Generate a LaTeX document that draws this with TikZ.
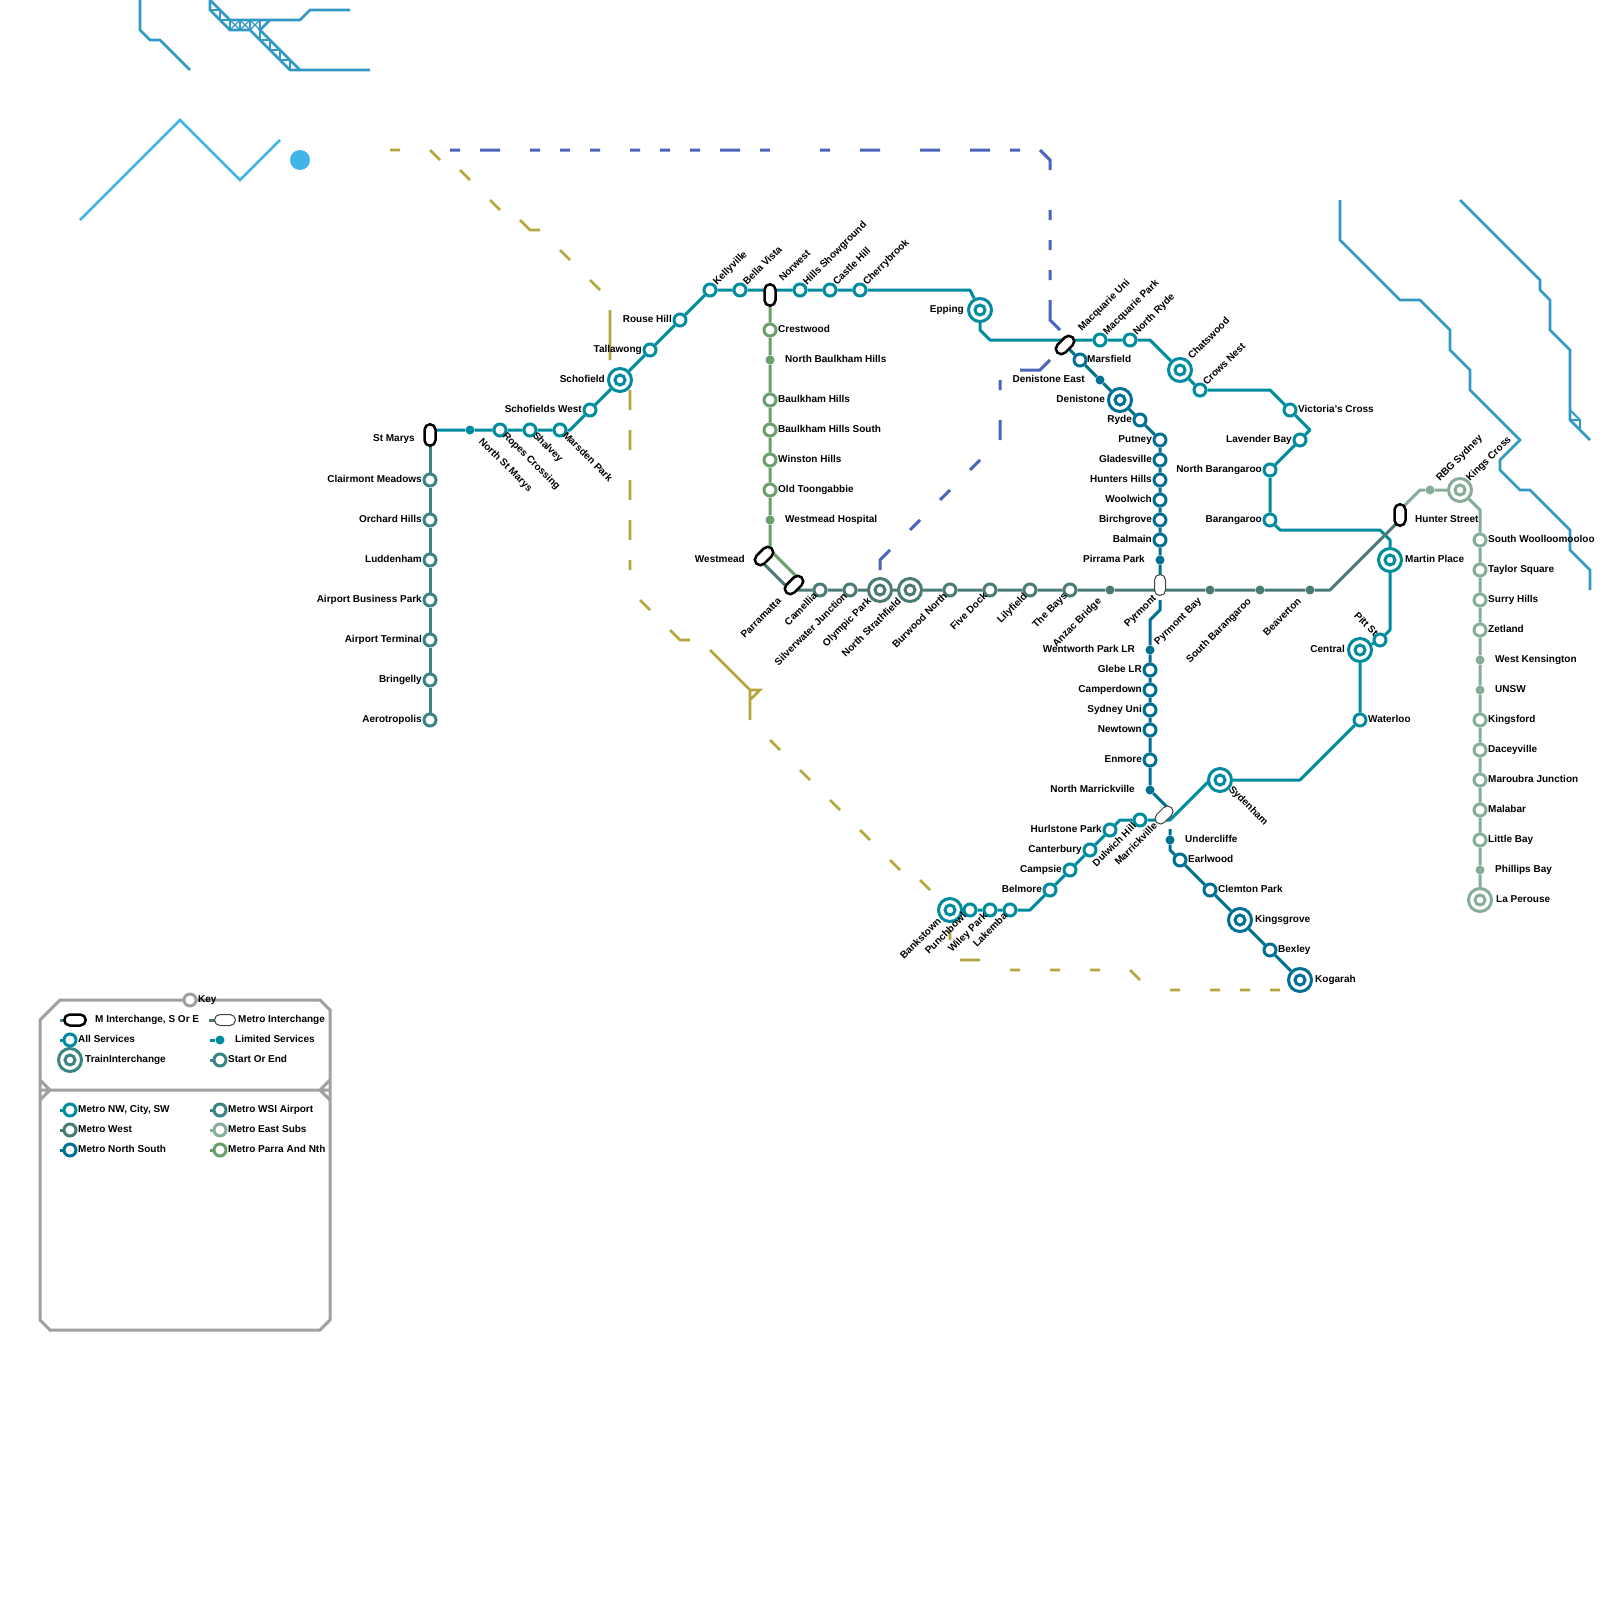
\documentclass[tikz,border=0pt]{standalone}
\usepackage{fontspec}
\setmainfont{Liberation Sans}
\usetikzlibrary{shapes.misc}
\definecolor{nw}{HTML}{008C9F}
\definecolor{west}{HTML}{4A7A75}
\definecolor{ns}{HTML}{006F94}
\definecolor{wsi}{HTML}{3A8488}
\definecolor{east}{HTML}{86AD9A}
\definecolor{parra}{HTML}{6A9E6B}
\definecolor{keygray}{HTML}{A0A0A0}
\definecolor{rail}{HTML}{3299C7}
\definecolor{skyb}{HTML}{3FB4E5}
\definecolor{olive}{HTML}{B5A73B}
\definecolor{purp}{HTML}{4A63BD}
\pgfdeclarelayer{lines}
\pgfsetlayers{lines,main}
\tikzset{
  ring/.style={circle,draw=#1,fill=white,line width=3pt,minimum size=12pt,inner sep=0pt},
  dotst/.style={circle,fill=#1,minimum size=9pt,inner sep=0pt},
  bigring/.style={circle,draw=#1,fill=white,line width=3pt,minimum size=23pt,inner sep=0pt},
  innerring/.style={circle,draw=#1,fill=white,line width=3pt,minimum size=10pt,inner sep=0pt},
  pillk/.style={rounded rectangle,draw=black,fill=white,line width=2.5pt,minimum width=21.5pt,minimum height=11pt,inner sep=0pt},
  pillw/.style={rounded rectangle,draw=black!75,fill=white,line width=1pt,minimum width=21pt,minimum height=11pt,inner sep=0pt},
  labl/.style={inner sep=0pt,text=black,font=\bfseries\fontsize{10}{12}\selectfont},
  metro/.style={draw=#1,line width=3pt,line join=round},
  railline/.style={draw=rail,line width=2.6pt,line join=miter},
  skyline/.style={draw=skyb,line width=2.6pt,line join=miter},
  olv/.style={draw=olive,line width=2.6pt,line join=miter},
  prp/.style={draw=purp,line width=3pt,line join=miter},
  keybox/.style={draw=keygray,line width=3pt,line join=miter}
}
\newcommand{\stR}[4]{\node[ring=#4] (#1) at (#2,#3) {};}
\newcommand{\stD}[4]{\node[dotst=#4] (#1) at (#2,#3) {};}
\newcommand{\stB}[4]{\node[bigring=#4] (#1) at (#2,#3) {};\node[innerring=#4] (#1i) at (#2,#3) {};}
\newcommand{\lbR}[4]{\node[labl,anchor=mid west] (l#1) at ([shift={(#2,#3)}]#1.center) {#4};}
\newcommand{\lbL}[4]{\node[labl,anchor=mid east] (l#1) at ([shift={(#2,#3)}]#1.center) {#4};}
\newcommand{\lbUR}[4]{\node[labl,anchor=mid west,rotate=45] (l#1) at ([shift={(#2,#3)}]#1.center) {#4};}
\newcommand{\lbUL}[4]{\node[labl,anchor=mid east,rotate=45] (l#1) at ([shift={(#2,#3)}]#1.center) {#4};}
\newcommand{\lbDR}[4]{\node[labl,anchor=mid west,rotate=-45] (l#1) at ([shift={(#2,#3)}]#1.center) {#4};}
\newcommand{\lbDL}[4]{\node[labl,anchor=mid east,rotate=-45] (l#1) at ([shift={(#2,#3)}]#1.center) {#4};}
\begin{document}
\begin{tikzpicture}[x=1pt,y=-1pt]
\useasboundingbox (0,0) rectangle (1600,1600);
\begin{pgfonlayer}{lines}
\fill[white] (0,0) rectangle (1600,1600);
\end{pgfonlayer}
% ---------- background rail lines
\draw[railline] (140,0)--(140,30)--(150,40)--(160,40)--(190,70);
\draw[railline] (210,0)--(230,20)--(300,20)--(310,10)--(350,10);
\draw[railline] (210,0)--(210,10)--(230,30)--(250,30)--(290,70)--(370,70);
\draw[railline] (270,20)--(260,30)--(300,70);
\draw[railline,line width=2pt] (210,10)--(220,10)--(220,20)--(230,20)--(230,30);
\draw[railline,line width=2pt] (240,20)--(240,30) (250,20)--(250,30) (260,20)--(260,30);
\draw[railline,line width=1.2pt] (230,20)--(240,30) (240,20)--(230,30) (240,20)--(250,30) (250,20)--(240,30) (250,20)--(260,30) (260,20)--(250,30);
\draw[railline,line width=2pt] (260,30)--(260,40)--(270,40)--(270,50)--(280,50)--(280,60)--(290,60)--(290,70);
\draw[skyline] (80,220)--(180,120)--(240,180)--(280,140);
\fill[skyb] (300,160) circle (10);
\draw[railline] (1340,200)--(1340,240)--(1400,300)--(1420,300)--(1450,330)--(1450,350)--(1470,370)--(1470,390)--(1520,440)--(1500,460)--(1500,470)--(1520,490)--(1530,490)--(1570,530)--(1570,550)--(1590,570)--(1590,590);
\draw[railline] (1460,200)--(1540,280)--(1540,290)--(1550,300)--(1550,330)--(1570,350)--(1570,420)--(1590,440);
\draw[railline,line width=2pt] (1570,410)--(1580,420)--(1580,430) (1570,420)--(1580,420);
% ---------- olive dashes
\draw[olv] (390,150)--(400,150) (430,150)--(440,160) (460,170)--(470,180) (490,200)--(500,210)
 (520,220)--(530,230)--(540,230) (560,250)--(570,260) (590,280)--(600,290) (610,310)--(610,360)
 (630,390)--(630,410) (630,430)--(630,450) (630,480)--(630,500) (630,520)--(630,540) (630,560)--(630,570)
 (640,600)--(650,610) (670,630)--(680,640)--(690,640) (710,650)--(750,690)--(750,720)
 (750,690)--(760,690)--(750,700)
 (770,740)--(780,750) (800,770)--(810,780) (830,800)--(840,810) (860,830)--(870,840) (890,860)--(900,870) (920,880)--(930,890)
 (950,930)--(950,940) (960,960)--(980,960) (1010,970)--(1020,970) (1050,970)--(1060,970) (1090,970)--(1100,970)
 (1130,970)--(1140,980) (1170,990)--(1180,990) (1210,990)--(1220,990) (1240,990)--(1250,990) (1270,990)--(1280,990);
% ---------- purple dashes
\draw[prp] (450,150)--(460,150) (480,150)--(500,150) (530,150)--(540,150) (560,150)--(570,150) (590,150)--(600,150)
 (630,150)--(640,150) (660,150)--(670,150) (690,150)--(700,150) (720,150)--(740,150) (760,150)--(770,150)
 (820,150)--(830,150) (860,150)--(880,150) (920,150)--(940,150) (970,150)--(990,150) (1010,150)--(1020,150)
 (1040,150)--(1050,160)--(1050,170) (1050,210)--(1050,220) (1050,240)--(1050,250) (1050,270)--(1050,280)
 (1050,300)--(1050,320)--(1060,330) (1050,360)--(1040,370)--(1020,370)
 (1000,380)--(1000,390) (1000,420)--(1000,440) (980,460)--(970,470) (950,490)--(940,500)
 (920,520)--(910,530) (890,550)--(880,560)--(880,570);
% ---------- key box
\draw[keybox] (60,1000)--(320,1000)--(330,1010)--(330,1320)--(320,1330)--(50,1330)--(40,1320)--(40,1020)--cycle;
\draw[keybox] (40,1080)--(50,1090)--(40,1100) (330,1080)--(320,1090)--(330,1100) (40,1090)--(330,1090);
% ---------- interchanges
\node[pillk,rotate=90] (stmarys) at (430,435) {};
\node[pillk,rotate=90] (norwest) at (770,295) {};
\node[pillk,rotate=45] (westmead) at (764,556) {};
\node[pillk,rotate=45] (parramatta) at (794,585) {};
\node[pillk,rotate=45] (macuni) at (1065,345) {};
\node[pillk,rotate=90] (hunter) at (1400,515) {};
\node[pillw,rotate=90] (pyrmont) at (1160,585) {};
\node[pillw,rotate=45] (marrick) at (1164,815) {};
% ---------- WSI
\stR{clairmont}{430}{480}{wsi}\stR{orchard}{430}{520}{wsi}\stR{luddenham}{430}{560}{wsi}\stR{abp}{430}{600}{wsi}
\stR{airport}{430}{640}{wsi}\stR{bringelly}{430}{680}{wsi}\stR{aerotropolis}{430}{720}{wsi}
% ---------- NW, City, SW
\stD{nstmarys}{470}{430}{nw}\stR{ropes}{500}{430}{nw}\stR{shalvey}{530}{430}{nw}\stR{marsden}{560}{430}{nw}
\stR{schwest}{590}{410}{nw}\stB{schofield}{620}{380}{nw}\stR{tallawong}{650}{350}{nw}\stR{rouse}{680}{320}{nw}
\stR{kellyville}{710}{290}{nw}\stR{bella}{740}{290}{nw}\stR{hills}{800}{290}{nw}\stR{castle}{830}{290}{nw}\stR{cherry}{860}{290}{nw}
\stB{epping}{980}{310}{nw}\stR{macpark}{1100}{340}{nw}\stR{nryde}{1130}{340}{nw}\stB{chatswood}{1180}{370}{nw}\stR{crows}{1200}{390}{nw}
\stR{victoria}{1290}{410}{nw}\stR{lavender}{1300}{440}{nw}\stR{nbarangaroo}{1270}{470}{nw}\stR{barangaroo}{1270}{520}{nw}
\stB{martin}{1390}{560}{nw}\stR{pitt}{1380}{640}{nw}\stB{central}{1360}{650}{nw}\stR{waterloo}{1360}{720}{nw}\stB{sydenham}{1220}{780}{nw}
\stR{dulwich}{1140}{820}{nw}\stR{hurlstone}{1110}{830}{nw}\stR{canterbury}{1090}{850}{nw}\stR{campsie}{1070}{870}{nw}\stR{belmore}{1050}{890}{nw}
\stR{lakemba}{1010}{910}{nw}\stR{wiley}{990}{910}{nw}\stR{punchbowl}{970}{910}{nw}\stB{bankstown}{950}{910}{nw}
% ---------- Parra and North
\stR{crestwood}{770}{330}{parra}\stD{nbaulk}{770}{360}{parra}\stR{baulk}{770}{400}{parra}\stR{baulks}{770}{430}{parra}
\stR{winston}{770}{460}{parra}\stR{toongabbie}{770}{490}{parra}\stD{hospital}{770}{520}{parra}
% ---------- West
\stR{camellia}{820}{590}{west}\stR{silver}{850}{590}{west}\stB{olympic}{880}{590}{west}\stB{nstrath}{910}{590}{west}
\stR{burwood}{950}{590}{west}\stR{fivedock}{990}{590}{west}\stR{lilyfield}{1030}{590}{west}\stR{bays}{1070}{590}{west}
\stD{anzac}{1110}{590}{west}\stD{pbay}{1210}{590}{west}\stD{sbarangaroo}{1260}{590}{west}\stD{beaverton}{1310}{590}{west}
% ---------- North South
\stR{marsfield}{1080}{360}{ns}\stD{denie}{1100}{380}{ns}\stB{denistone}{1120}{400}{ns}\stR{ryde}{1140}{420}{ns}
\stR{putney}{1160}{440}{ns}\stR{gladesville}{1160}{460}{ns}\stR{hunters}{1160}{480}{ns}\stR{woolwich}{1160}{500}{ns}
\stR{birchgrove}{1160}{520}{ns}\stR{balmain}{1160}{540}{ns}\stD{pirrama}{1160}{560}{ns}
\stD{wentworth}{1150}{650}{ns}\stR{glebe}{1150}{670}{ns}\stR{camperdown}{1150}{690}{ns}\stR{sydneyuni}{1150}{710}{ns}
\stR{newtown}{1150}{730}{ns}\stR{enmore}{1150}{760}{ns}\stD{nmarrick}{1150}{790}{ns}
\stD{undercliffe}{1170}{840}{ns}\stR{earlwood}{1180}{860}{ns}\stR{clemton}{1210}{890}{ns}\stB{kingsgrove}{1240}{920}{ns}\stR{bexley}{1270}{950}{ns}\stB{kogarah}{1300}{980}{ns}
% ---------- East Subs
\stD{rbg}{1430}{490}{east}\stB{kings}{1460}{490}{east}\stR{swool}{1480}{540}{east}\stR{taylor}{1480}{570}{east}\stR{surry}{1480}{600}{east}
\stR{zetland}{1480}{630}{east}\stD{wkens}{1480}{660}{east}\stD{unsw}{1480}{690}{east}\stR{kingsford}{1480}{720}{east}\stR{dacey}{1480}{750}{east}
\stR{maroubra}{1480}{780}{east}\stR{malabar}{1480}{810}{east}\stR{littlebay}{1480}{840}{east}\stD{phillips}{1480}{870}{east}\stB{perouse}{1480}{900}{east}
% ---------- named line ends
\coordinate (stmarysc) at (430,430);
\coordinate (normc) at (770,290);
\coordinate (westb) at (760,560);
\coordinate (parraE) at (800,580);
\coordinate (macunic) at (1065,340);
\coordinate (pyrmtop) at (1160,600);
\coordinate (marrA) at (1170,810);
\coordinate (undertop) at (1170,829);
\coordinate (hunterS) at (1400,520);
\coordinate (hunterN) at (1400,510);
\coordinate (marrR) at (1170,820);
% ---------- lines
\begin{pgfonlayer}{lines}
\draw[metro=wsi] (stmarys.center)--(clairmont)--(orchard)--(luddenham)--(abp)--(airport)--(bringelly)--(aerotropolis);
\draw[metro=nw] (stmarysc)--(nstmarys)--(ropes)--(shalvey)--(marsden)--(570,430)--(schwest)--(schofield)--(tallawong)--(rouse)--(kellyville)--(bella)--(normc)--(hills)--(castle)--(cherry)--(970,290)--(epping)--(980,330)--(990,340)--(macunic)--(macpark)--(nryde)--(1150,340)--(chatswood)--(crows)--(1270,390)--(victoria)--(1310,430)--(lavender)--(nbarangaroo)--(barangaroo)--(1280,530)--(1380,530)--(1390,540)--(martin)--(1390,630)--(pitt)--(central)--(waterloo)--(1300,780)--(sydenham);
\draw[metro=nw] (sydenham)--(1210,780)--(marrR)--(dulwich)--(1120,820)--(hurlstone)--(canterbury)--(campsie)--(belmore)--(1030,910)--(lakemba)--(wiley)--(punchbowl)--(bankstown);
\draw[metro=parra] (norwest.center)--(crestwood)--(nbaulk)--(baulk)--(baulks)--(winston)--(toongabbie)--(hospital)--(770,550)--(parraE);
\draw[metro=west] (westb)--(790,590)--(camellia)--(silver)--(olympic)--(nstrath)--(burwood)--(fivedock)--(lilyfield)--(bays)--(anzac)--(pyrmont.center |- anzac)--(pbay)--(sbarangaroo)--(beaverton)--(1330,590)--(hunterS);
\draw[metro=east] (hunterN)--(1420,490)--(rbg)--(kings)--(1480,510)--(swool)--(taylor)--(surry)--(zetland)--(wkens)--(unsw)--(kingsford)--(dacey)--(maroubra)--(malabar)--(littlebay)--(phillips)--(perouse);
\draw[metro=ns] (macuni.center)--(marsfield)--(denie)--(denistone)--(ryde)--(putney)--(gladesville)--(hunters)--(woolwich)--(birchgrove)--(balmain)--(pirrama)--(pyrmont.center);
\draw[metro=ns] (pyrmtop)--(1160,610)--(1150,620)--(wentworth)--(glebe)--(camperdown)--(sydneyuni)--(newtown)--(enmore)--(nmarrick)--(marrA);
\draw[metro=ns] (undertop)--(undercliffe)--(1170,850)--(earlwood)--(clemton)--(kingsgrove)--(bexley)--(kogarah);
\end{pgfonlayer}
% ---------- labels
\lbL{stmarys}{-15}{4}{St Marys}
\lbL{clairmont}{-8}{0}{Clairmont Meadows}\lbL{orchard}{-8}{0}{Orchard Hills}\lbL{luddenham}{-8}{0}{Luddenham}\lbL{abp}{-8}{0}{Airport Business Park}
\lbL{airport}{-8}{0}{Airport Terminal}\lbL{bringelly}{-8}{0}{Bringelly}\lbL{aerotropolis}{-8}{0}{Aerotropolis}
\lbDR{nstmarys}{10}{10}{North St Marys}\lbDR{ropes}{4}{4}{Ropes Crossing}\lbDR{shalvey}{4}{4}{Shalvey}\lbDR{marsden}{4}{4}{Marsden Park}
\lbL{schwest}{-8}{0}{Schofields West}\lbL{schofield}{-15}{0}{Schofield}\lbL{tallawong}{-8}{0}{Tallawong}\lbL{rouse}{-8}{0}{Rouse Hill}
\lbUR{kellyville}{5}{-6}{Kellyville}\lbUR{bella}{5}{-6}{Bella Vista}\lbUR{norwest}{11}{-15}{Norwest}\lbUR{hills}{5}{-6}{Hills Showground}\lbUR{castle}{5}{-6}{Castle Hill}\lbUR{cherry}{5}{-6}{Cherrybrook}
\lbL{epping}{-16}{0}{Epping}\lbUR{macuni}{15}{-15}{Macquarie Uni}\lbUR{macpark}{5}{-6}{Macquarie Park}\lbUR{nryde}{5}{-6}{North Ryde}
\lbUR{chatswood}{10}{-12}{Chatswood}\lbUR{crows}{5}{-6}{Crows Nest}\lbR{victoria}{8}{0}{Victoria's Cross}\lbL{lavender}{-8}{0}{Lavender Bay}\lbL{nbarangaroo}{-8}{0}{North Barangaroo}\lbL{barangaroo}{-8}{0}{Barangaroo}
\lbR{martin}{15}{0}{Martin Place}\lbDL{pitt}{-4}{-5}{Pitt St}\lbL{central}{-15}{0}{Central}\lbR{waterloo}{8}{0}{Waterloo}\lbDR{sydenham}{10}{8}{Sydenham}
\lbUL{marrick}{-8}{10}{Marrickville}\lbUL{dulwich}{-5}{5}{Dulwich Hill}\lbL{hurlstone}{-8}{0}{Hurlstone Park}\lbL{canterbury}{-8}{0}{Canterbury}\lbL{campsie}{-8}{0}{Campsie}\lbL{belmore}{-8}{0}{Belmore}
\lbUL{lakemba}{-4}{5}{Lakemba}\lbUL{wiley}{-4}{5}{Wiley Park}\lbUL{punchbowl}{-5}{5}{Punchbowl}\lbUL{bankstown}{-10}{10}{Bankstown}
\lbR{crestwood}{8}{0}{Crestwood}\lbR{nbaulk}{15}{0}{North Baulkham Hills}\lbR{baulk}{8}{0}{Baulkham Hills}\lbR{baulks}{8}{0}{Baulkham Hills South}\lbR{winston}{8}{0}{Winston Hills}\lbR{toongabbie}{8}{0}{Old Toongabbie}\lbR{hospital}{15}{0}{Westmead Hospital}
\lbL{westmead}{-19}{4}{Westmead}\lbUL{parramatta}{-14}{15}{Parramatta}
\lbUL{camellia}{-4}{5}{Camellia}\lbUL{silver}{-4}{5}{Silverwater Junction}\lbUL{olympic}{-10}{10}{Olympic Park}\lbUL{nstrath}{-10}{10}{North Strathfield}\lbUL{burwood}{-4}{5}{Burwood North}\lbUL{fivedock}{-4}{5}{Five Dock}\lbUL{lilyfield}{-4}{5}{Lilyfield}\lbUL{bays}{-4}{5}{The Bays}
\lbUL{anzac}{-10}{10}{Anzac Bridge}\lbUL{pyrmont}{-5}{12}{Pyrmont}\lbUL{pbay}{-10}{10}{Pyrmont Bay}\lbUL{sbarangaroo}{-10}{10}{South Barangaroo}\lbUL{beaverton}{-10}{10}{Beaverton}
\lbR{marsfield}{7}{0}{Marsfield}\lbL{denie}{-15}{0}{Denistone East}\lbL{denistone}{-15}{0}{Denistone}\lbL{ryde}{-8}{0}{Ryde}\lbL{putney}{-8}{0}{Putney}\lbL{gladesville}{-8}{0}{Gladesville}\lbL{hunters}{-8}{0}{Hunters Hills}\lbL{woolwich}{-8}{0}{Woolwich}\lbL{birchgrove}{-8}{0}{Birchgrove}\lbL{balmain}{-8}{0}{Balmain}\lbL{pirrama}{-15}{0}{Pirrama Park}
\lbL{wentworth}{-15}{0}{Wentworth Park LR}\lbL{glebe}{-8}{0}{Glebe LR}\lbL{camperdown}{-8}{0}{Camperdown}\lbL{sydneyuni}{-8}{0}{Sydney Uni}\lbL{newtown}{-8}{0}{Newtown}\lbL{enmore}{-8}{0}{Enmore}\lbL{nmarrick}{-15}{0}{North Marrickville}
\lbR{undercliffe}{15}{0}{Undercliffe}\lbR{earlwood}{8}{0}{Earlwood}\lbR{clemton}{8}{0}{Clemton Park}\lbR{kingsgrove}{15}{0}{Kingsgrove}\lbR{bexley}{8}{0}{Bexley}\lbR{kogarah}{15}{0}{Kogarah}
\lbR{hunter}{15}{5}{Hunter Street}\lbUR{rbg}{8}{-10}{RBG Sydney}\lbUR{kings}{8}{-10}{Kings Cross}
\lbR{swool}{8}{0}{South Woolloomooloo}\lbR{taylor}{8}{0}{Taylor Square}\lbR{surry}{8}{0}{Surry Hills}\lbR{zetland}{8}{0}{Zetland}\lbR{wkens}{15}{0}{West Kensington}\lbR{unsw}{15}{0}{UNSW}\lbR{kingsford}{8}{0}{Kingsford}\lbR{dacey}{8}{0}{Daceyville}\lbR{maroubra}{8}{0}{Maroubra Junction}\lbR{malabar}{8}{0}{Malabar}\lbR{littlebay}{8}{0}{Little Bay}\lbR{phillips}{15}{0}{Phillips Bay}\lbR{perouse}{16}{0}{La Perouse}
% ---------- key contents
\stR{keyst}{190}{1000}{keygray}\lbR{keyst}{8}{0}{Key}
\node[pillk] (kp1) at (75,1020) {};\coordinate (ks1) at (60,1020);
\node[pillw] (kp2) at (225,1020) {};\coordinate (ks2) at (209,1020);
\stR{kall}{70}{1040}{nw}\coordinate (ks3) at (60,1040);
\stD{klim}{220}{1040}{nw}\coordinate (ks4) at (210,1040);
\stB{ktrain}{70}{1060}{wsi}
\stR{kstart}{220}{1060}{wsi}\coordinate (ks5) at (210,1060);
\stR{knw}{70}{1110}{nw}\coordinate (ks6) at (60,1110);
\stR{kwsi}{220}{1110}{wsi}\coordinate (ks7) at (210,1110);
\stR{kwest}{70}{1130}{west}\coordinate (ks8) at (60,1130);
\stR{keast}{220}{1130}{east}\coordinate (ks9) at (210,1130);
\stR{kns}{70}{1150}{ns}\coordinate (ks10) at (60,1150);
\stR{kparra}{220}{1150}{parra}\coordinate (ks11) at (210,1150);
\begin{pgfonlayer}{lines}
\draw[metro=wsi] (ks1)--(kp1.center) (ks5)--(kstart) (ks7)--(kwsi);
\draw[metro=west] (ks2)--(kp2.center) (ks8)--(kwest);
\draw[metro=nw] (ks3)--(kall) (ks4)--(klim) (ks6)--(knw);
\draw[metro=east] (ks9)--(keast);
\draw[metro=ns] (ks10)--(kns);
\draw[metro=parra] (ks11)--(kparra);
\end{pgfonlayer}
\node[labl,anchor=mid west] (kt1) at (95,1020) {M Interchange, S Or E};
\node[labl,anchor=mid west] (kt2) at (238,1020) {Metro Interchange};
\lbR{kall}{8}{0}{All Services}\node[labl,anchor=mid west] (kt4) at (235,1040) {Limited Services};
\lbR{ktrain}{15}{0}{TrainInterchange}\lbR{kstart}{8}{0}{Start Or End}
\lbR{knw}{8}{0}{Metro NW, City, SW}\lbR{kwsi}{8}{0}{Metro WSI Airport}
\lbR{kwest}{8}{0}{Metro West}\lbR{keast}{8}{0}{Metro East Subs}
\lbR{kns}{8}{0}{Metro North South}\lbR{kparra}{8}{0}{Metro Parra And Nth}
\end{tikzpicture}
\end{document}
